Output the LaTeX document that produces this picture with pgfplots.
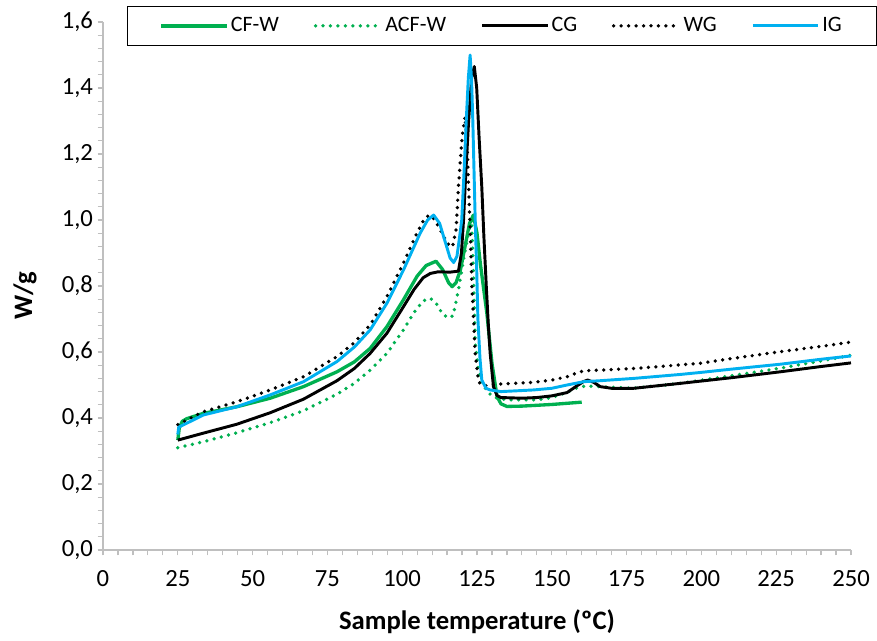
\documentclass[border=0pt]{standalone}
\usepackage{fontspec}
\setmainfont{Carlito}
\usepackage{pgfplots}
\pgfplotsset{compat=1.18}
\definecolor{xgreen}{HTML}{00B050}
\definecolor{xblue}{HTML}{00B0F0}
\definecolor{axgray}{HTML}{BFBFBF}
\begin{document}
\begin{tikzpicture}[font=\fontsize{18}{21.6}\selectfont]
\path[use as bounding box] (-77.25pt,-68.25pt) rectangle (580.5pt,412.5pt);
\begin{axis}[
  at={(0pt,0pt)}, anchor=south west,
  scale only axis, width=561pt, height=396pt,
  xmin=0, xmax=250, ymin=0, ymax=1.6,
  axis x line*=bottom, axis y line*=left,
  axis line style={axgray, line width=0.9pt, -},
  xtick={0,25,...,250}, minor x tick num=4,
  ytick={0,0.2,0.4,0.6,0.8,1.0,1.2,1.4,1.6}, minor y tick num=4,
  tick align=outside, major tick length=4pt, minor tick length=4pt,
  tick style={axgray, line width=0.9pt},
  /pgf/number format/assume math mode=true,
  yticklabel style={font=\fontsize{18.5}{22}\selectfont, /pgf/number format/.cd, fixed, fixed zerofill, precision=1, use comma},
  xticklabel style={font=\fontsize{18.5}{22}\selectfont, yshift=-8pt, /pgf/number format/.cd, fixed, precision=0},
  every axis x label/.style={at={(axis description cs:0.5,0)}, yshift=-54pt, anchor=center},
  every axis y label/.style={at={(axis description cs:0,0.482)}, xshift=-58.5pt, rotate=90, anchor=center},
  xlabel={\fontsize{20}{24}\selectfont\bfseries Sample temperature (ºC)},
  ylabel={\fontsize{20}{24}\selectfont\bfseries W/g},
  clip=false,
  legend columns=5,
  legend style={draw=black, line width=0.75pt, fill=white, at={(0.0321,1.0305)}, anchor=north west,
    inner xsep=24pt, inner ysep=6.5pt,
    font=\fontsize{16.5}{19}\selectfont,
    /tikz/every odd column/.append style={column sep=0pt},
    /tikz/every even column/.append style={column sep=24pt}},
  legend image code/.code={\draw[#1] (0pt,0pt) -- (49pt,0pt);},
]
\addplot[xgreen, line width=2.5pt, line join=round] coordinates {
(25,0.333) (25.5,0.37) (26.5,0.39) (28,0.398) (33.5,0.414) (44.7,0.434) (55.9,0.46) (67,0.495) (78.2,0.54) (84,0.57) (89.3,0.611) (94.9,0.677) (100.4,0.758) (105,0.83) (108,0.862) (111.3,0.875) (113.5,0.85) (115.5,0.81) (116.7,0.798) (118,0.81) (119.5,0.85) (121,0.92) (122.5,0.99) (123.8,1.015) (125,0.96) (126.1,0.869) (128.3,0.717) (130,0.566) (131.7,0.465) (133,0.443) (135,0.435) (140,0.436) (150,0.441) (160,0.448)};
\addlegendentry{CF-W}
\addplot[xgreen, line width=2.8pt, line cap=round, dash pattern=on 0pt off 5.6pt] coordinates {
(25,0.31) (33.5,0.328) (44.7,0.355) (55.9,0.386) (67,0.422) (78.2,0.472) (84,0.505) (89.3,0.545) (94.9,0.596) (100.4,0.667) (104,0.72) (107,0.755) (109.4,0.763) (111.5,0.745) (113.5,0.715) (115.5,0.703) (117,0.71) (118.8,0.788) (120.5,0.88) (122.3,0.97) (123.2,1.0) (123.8,0.85) (124.4,0.63) (125.5,0.54) (127,0.5) (129,0.475) (131,0.462) (135,0.455) (145,0.455) (150,0.462) (155.1,0.478) (158,0.49) (161,0.497) (166,0.495) (177,0.49) (193,0.505) (210,0.528) (226.4,0.551) (240,0.573) (250,0.59)};
\addlegendentry{ACF-W}
\addplot[black, line width=2.2pt, line join=round] coordinates {
(25,0.333) (33.5,0.354) (44.7,0.381) (55.9,0.416) (67,0.457) (78.2,0.513) (84,0.55) (89.3,0.596) (94.9,0.657) (100.4,0.737) (104,0.79) (107,0.825) (109.4,0.838) (112,0.843) (116,0.842) (118.8,0.845) (119.8,0.9) (120.5,1.0) (121.3,1.15) (122.2,1.30) (123.2,1.43) (124.1,1.465) (124.9,1.40) (125.7,1.25) (126.6,1.10) (127.3,0.95) (128.1,0.80) (128.8,0.68) (129.4,0.596) (130.5,0.495) (131.7,0.468) (133,0.462) (140,0.46) (145,0.462) (150,0.467) (155.1,0.477) (158,0.495) (160.5,0.51) (162,0.515) (164,0.508) (166.2,0.495) (170,0.49) (177.4,0.49) (193,0.505) (210,0.522) (226.4,0.54) (240,0.556) (250,0.567)};
\addlegendentry{CG}
\addplot[black, line width=2.8pt, line cap=round, dash pattern=on 0pt off 5.6pt] coordinates {
(25,0.38) (33.5,0.419) (44.7,0.449) (55.9,0.485) (67,0.525) (78.2,0.586) (83.7,0.626) (89.3,0.682) (94.9,0.768) (100.4,0.869) (104.9,0.96) (107.5,1.005) (109.2,1.015) (111,1.0) (113,0.965) (115,0.93) (116.8,0.918) (118,0.97) (118.8,1.10) (120,1.25) (121,1.313) (121.6,1.25) (122.2,1.10) (122.8,0.95) (123.3,0.80) (124.4,0.596) (125.5,0.51) (127,0.497) (133,0.503) (143.9,0.508) (150,0.515) (155.1,0.525) (158,0.535) (160.6,0.543) (166.2,0.545) (177.4,0.55) (193,0.561) (199.7,0.566) (210,0.58) (226.4,0.601) (240,0.617) (250,0.63)};
\addlegendentry{WG}
\addplot[xblue, line width=2.2pt, line join=round] coordinates {
(25,0.35) (25.3,0.372) (33.5,0.409) (44.7,0.434) (55.9,0.47) (67,0.51) (78.2,0.571) (84,0.615) (89.3,0.667) (94.9,0.748) (100.4,0.848) (106,0.96) (108.5,1.0) (110.5,1.015) (112.5,0.99) (114.5,0.93) (116,0.885) (117.2,0.871) (118.3,0.89) (119.2,0.95) (119.9,1.0) (120.7,1.15) (121.4,1.30) (122.1,1.43) (122.7,1.50) (123.2,1.42) (123.6,1.30) (124,1.15) (124.4,1.0) (124.9,0.85) (125.3,0.70) (126,0.58) (126.6,0.515) (128,0.49) (129.4,0.485) (133,0.48) (143.9,0.485) (150,0.49) (155.1,0.5) (160.6,0.51) (166.2,0.513) (177.4,0.52) (193,0.532) (199.7,0.538) (210,0.548) (226.4,0.563) (240,0.578) (250,0.588)};
\addlegendentry{IG}
\end{axis}
\end{tikzpicture}
\end{document}
